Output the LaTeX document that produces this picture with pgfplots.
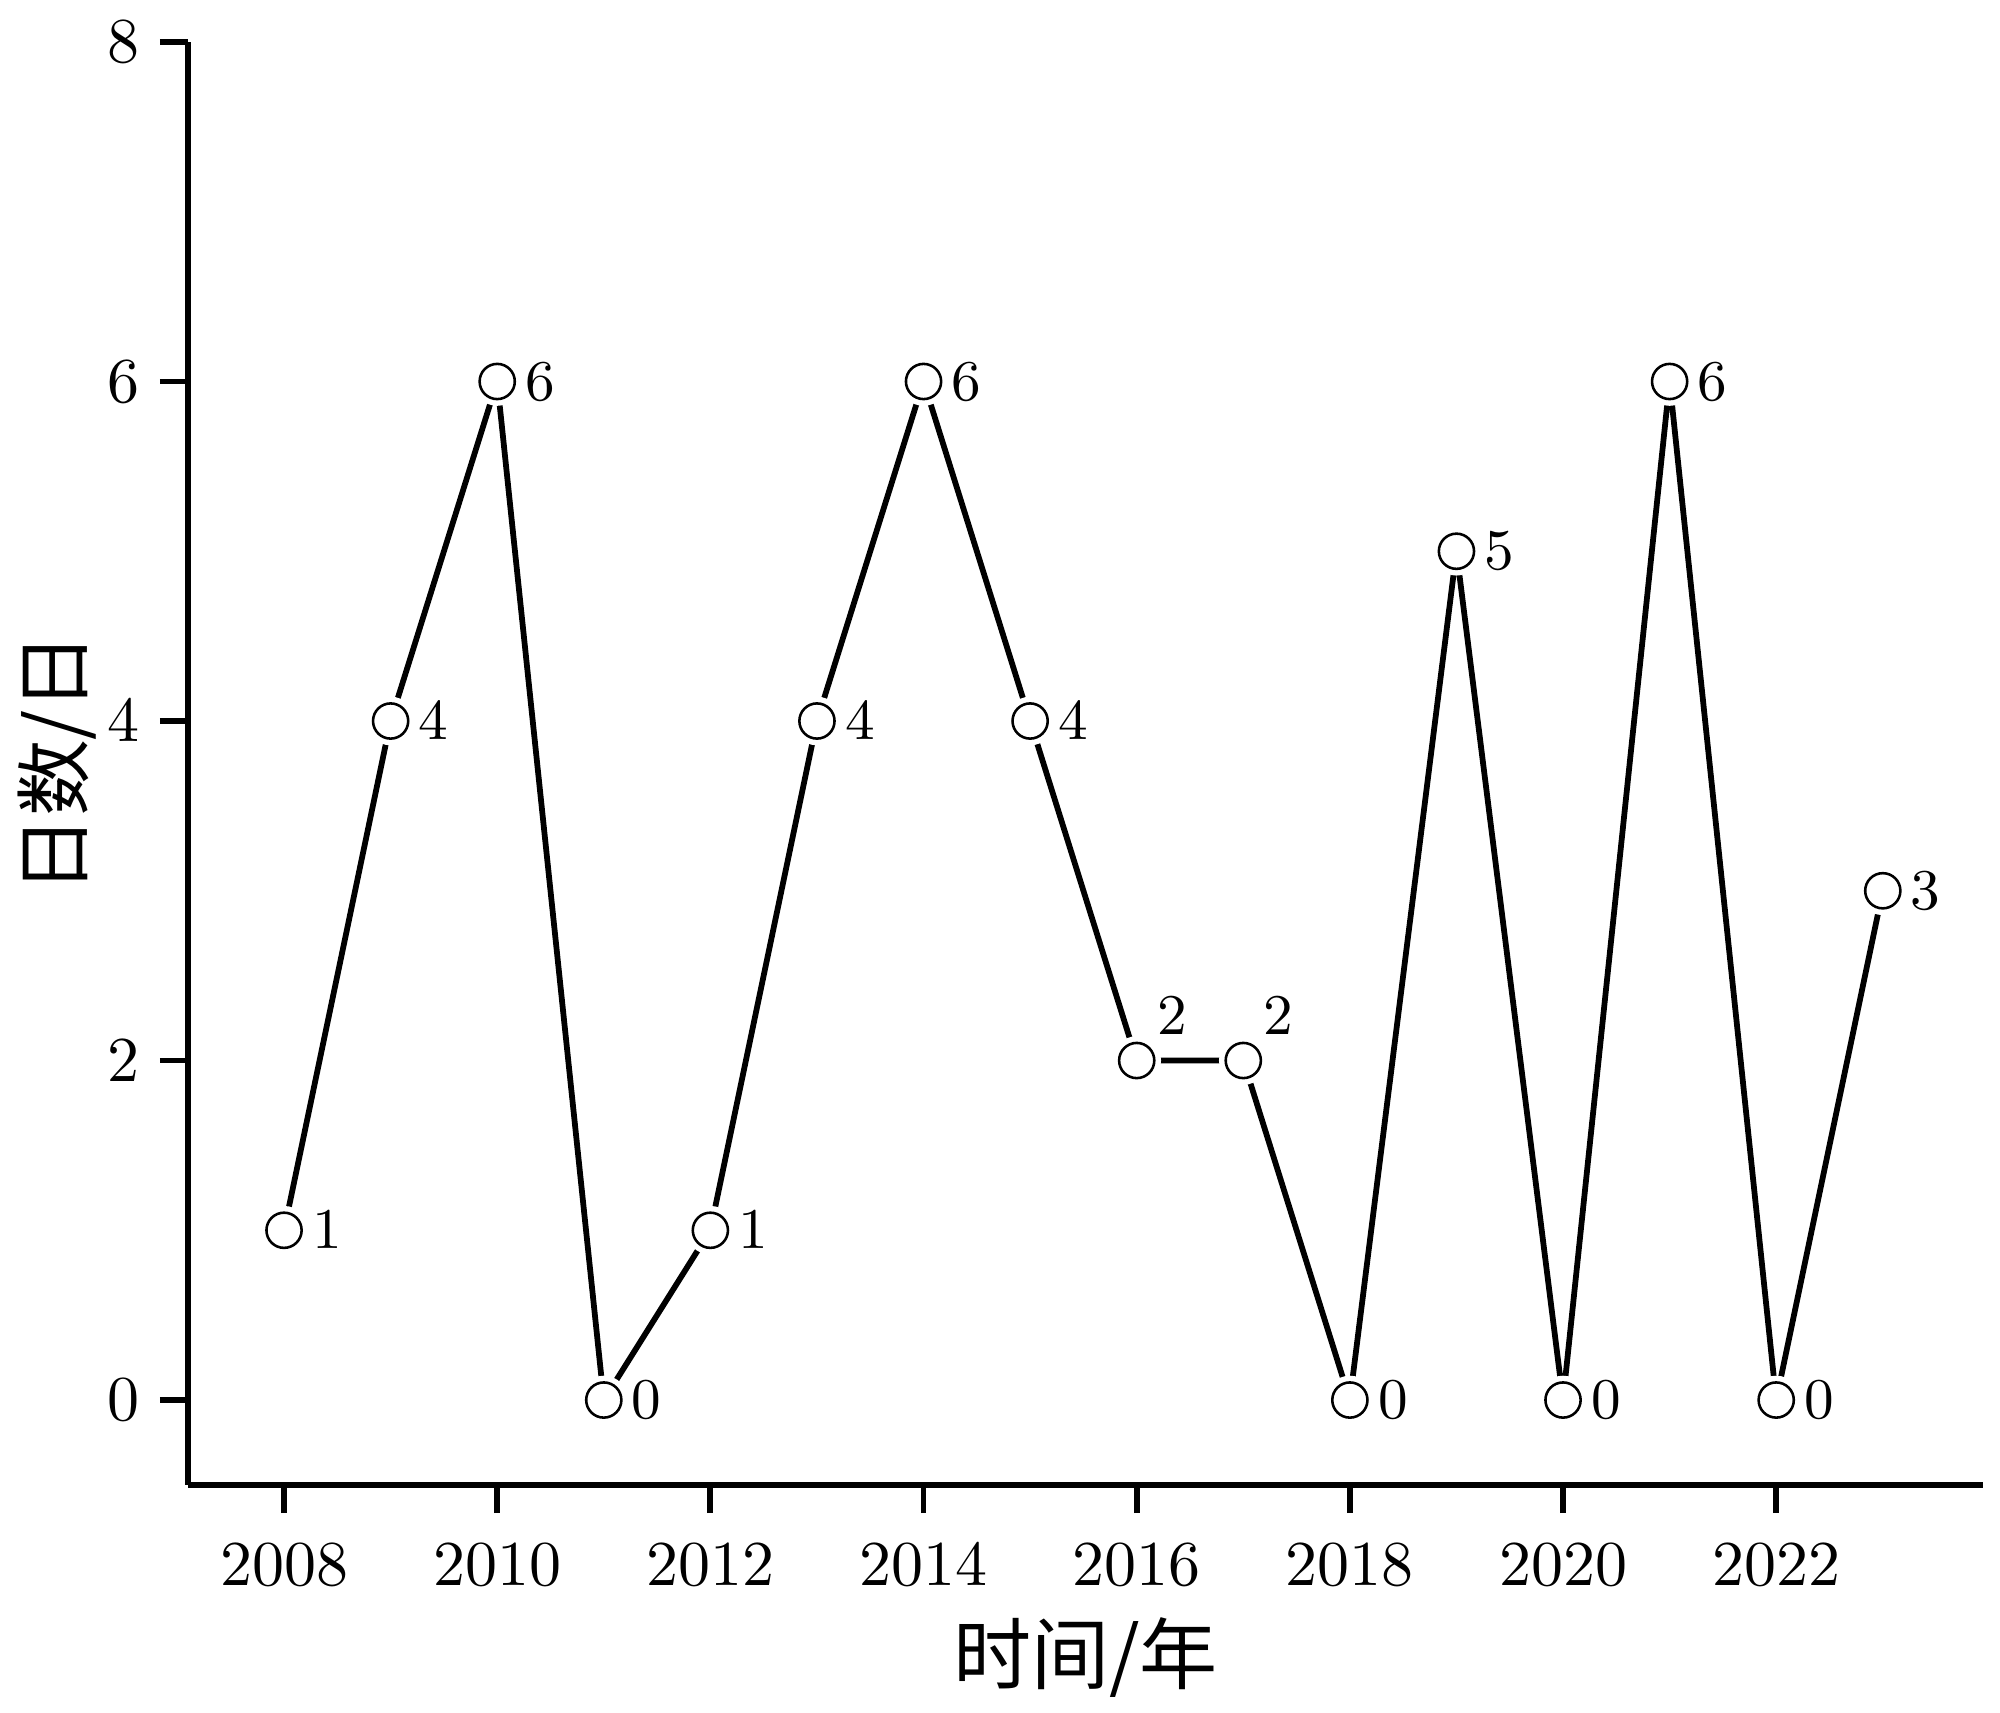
\documentclass[border=0pt]{standalone}
\usepackage{fontspec}
\newfontfamily\cjk{Noto Sans CJK SC}
\usepackage{pgfplots}
\usepackage{pgfplotstable}
\pgfplotsset{compat=1.18}
\pgfplotstableread{
year val pos
2008 1 0
2009 4 0
2010 6 0
2011 0 0
2012 1 0
2013 4 0
2014 6 0
2015 4 0
2016 2 1
2017 2 1
2018 0 0
2019 5 0
2020 0 0
2021 6 0
2022 0 0
2023 3 0
}\data
\begin{document}
\begin{tikzpicture}
\begin{axis}[
  scale only axis, width=280.5pt, height=225.5pt,
  xmin=2007.1, xmax=2023.94, ymin=-0.5, ymax=8,
  axis x line*=bottom, axis y line*=left,
  axis line style={line width=0.9pt,-},
  tick style={line width=0.9pt, black},
  tick align=outside, major tick length=4.4pt,
  xtick={2008,2010,...,2022}, ytick={0,2,...,8},
  minor tick num=0,
  x tick label style={/pgf/number format/1000 sep={}, font=\fontsize{10}{12}\selectfont, yshift=-1.4pt},
  y tick label style={font=\fontsize{10}{12}\selectfont, xshift=0.4pt},
  xlabel={\cjk 时间/年}, ylabel={\cjk 日数/日},
  xlabel style={at={([yshift=-27pt]axis description cs:0.5,0)}, anchor=center, inner sep=0pt, font=\fontsize{12.2}{14}\selectfont},
  ylabel style={at={([xshift=-20.5pt]axis description cs:0,0.5)}, anchor=center, inner sep=0pt, font=\fontsize{12}{14}\selectfont},
  clip=false,
]
\path ([shift={(-29.4pt,-35.6pt)}]rel axis cs:0,0) rectangle ([shift={(2.66pt,6.56pt)}]rel axis cs:1,1);
\addplot[black, line width=0.9pt, line join=round, mark=none] table[x=year,y=val]{\data};
\addplot[only marks, mark=*, white, mark size=3.6pt] table[x=year,y=val]{\data};
\addplot[only marks, mark=o, black, mark size=2.75pt, mark options={line width=0.4pt, draw=black, fill=white},
  point meta=explicit,
  visualization depends on={\thisrow{pos} \as \lpos},
  nodes near coords,
  every node near coord/.append style={anchor=west, inner sep=0pt, text=black,
    xshift={4.2pt-\lpos*1.2pt}, yshift={\lpos*6.95pt}, font=\fontsize{9}{10}\selectfont},
] table[x=year,y=val,meta=val]{\data};
\end{axis}
\end{tikzpicture}
\end{document}
